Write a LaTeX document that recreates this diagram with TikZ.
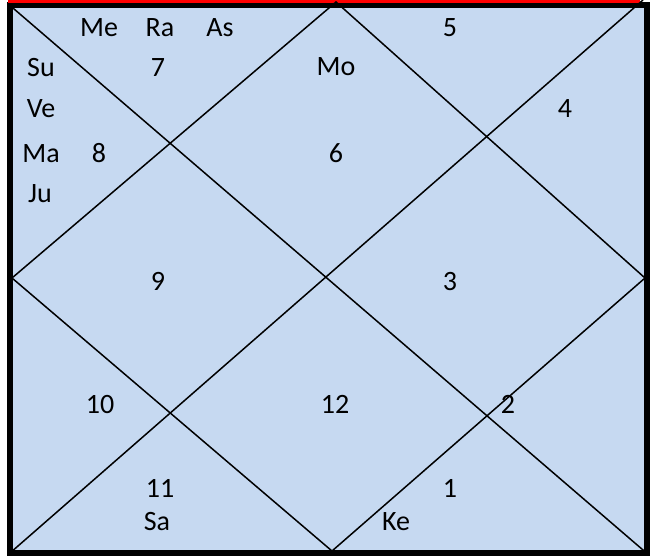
\documentclass[tikz,border=0pt]{standalone}
\usepackage{fontspec}
\setmainfont{Carlito}
\definecolor{chartfill}{HTML}{C6D9F1}
\definecolor{topred}{HTML}{FF0000}
\tikzset{
  lbl/.style={anchor=base, inner sep=0pt, font=\fontsize{28}{32}\selectfont},
  chartline/.style={line width=1.5pt, black},
  frame/.style={line width=6pt, black},
}
\begin{document}
\begin{tikzpicture}[x=1pt,y=-1pt]
\useasboundingbox (0,0) rectangle (650,556);
\coordinate (tl) at (10,5.5);
\coordinate (tr) at (646.5,5.5);
\coordinate (bl) at (10,553);
\coordinate (br) at (646.5,553);
\coordinate (tm) at (336,2);
\coordinate (bm) at (332,551);
\coordinate (lm) at (12,278);
\coordinate (rm) at (645,278);
\coordinate (trx) at (643,0);
\coordinate (rl) at (8,1.5);
\coordinate (rr) at (640,1.5);
% background
\fill[chartfill] (tl) rectangle (br);
% frame
\draw[frame] (tl) rectangle (br);
\draw[topred, line width=3pt] (rl) -- (rr);
% chart lines
\draw[chartline] (tl) -- (br);
\draw[chartline] (bl) -- (trx);
\draw[chartline] (tm) -- (lm) -- (bm) -- (rm) -- cycle;
% labels
\node[lbl] (me) at (99,37) {Me};
\node[lbl] (ra) at (160,37) {Ra};
\node[lbl] (as) at (220,37) {As};
\node[lbl] (su) at (41,77) {Su};
\node[lbl] (ve) at (41,118) {Ve};
\node[lbl] (ma) at (41,163) {Ma};
\node[lbl] (ju) at (40,203) {Ju};
\node[lbl] (h7) at (158,77) {7};
\node[lbl] (h8) at (99,163) {8};
\node[lbl] (mo) at (336,76) {Mo};
\node[lbl] (h6) at (336,163) {6};
\node[lbl] (h5) at (450,37) {5};
\node[lbl] (h4) at (565,118) {4};
\node[lbl] (h9) at (158,290) {9};
\node[lbl] (h3) at (450,290) {3};
\node[lbl] (h10) at (100,413) {10};
\node[lbl] (h12) at (335,413) {12};
\node[lbl] (h2) at (508,413) {2};
\node[lbl] (h11) at (160,497) {11};
\node[lbl] (sa) at (157,530) {Sa};
\node[lbl] (h1) at (450,497) {1};
\node[lbl] (ke) at (396,530) {Ke};
\end{tikzpicture}
\end{document}
